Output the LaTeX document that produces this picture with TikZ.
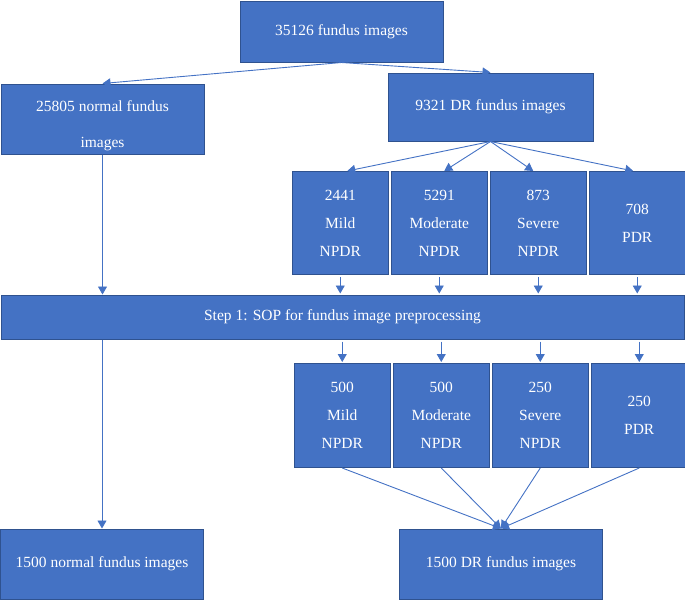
\documentclass[tikz,border=0pt]{standalone}
\usepackage{fontspec}
\setmainfont{Liberation Serif}
\usetikzlibrary{arrows.meta,positioning}
\definecolor{boxblue}{HTML}{4472C4}
\definecolor{boxedge}{HTML}{2F528F}

\begin{document}
\begin{tikzpicture}[
  x=1pt, y=-1pt,
  font=\fontsize{15.5}{28}\selectfont,
  >={Triangle[length=8pt, width=9pt]},
  box/.style={rectangle, draw=boxedge, fill=boxblue, line width=1pt,
              text=white, align=center, inner sep=2pt},
  wide/.style={box, minimum width=203pt, minimum height=70pt},
  grade/.style={box, minimum width=95.5pt, minimum height=103pt},
  link/.style={->, draw=boxblue, line width=0.9pt},
]
\useasboundingbox (0,0) rectangle (685,600);

% top
\node[box, minimum width=203pt, minimum height=61pt] (all) at (341.5,31.5) {35126 fundus images};
\node[wide, text height=61pt] (normal) at (102.5,119) {25805 normal fundus\\[8pt]images};
\node[box, minimum width=205pt, minimum height=68pt] (dr) at (490.5,107) {9321 DR fundus images};

% grades before preprocessing
\node[grade, anchor=north west] (mild) at (292,171) {2441\\Mild\\NPDR};
\node[grade, right=2.5pt of mild] (mod) {5291\\Moderate\\NPDR};
\node[grade, right=2.5pt of mod]  (sev) {873\\Severe\\NPDR};
\node[grade, right=2.5pt of sev]  (pdr) {708\\PDR};

% preprocessing bar
\node[box, minimum width=683pt, minimum height=44pt] (step) at (342.5,317) {Step 1: SOP for fundus image preprocessing};

% grades after preprocessing
\node[grade, minimum height=104pt, anchor=north west] (mild2) at (294,363) {500\\Mild\\NPDR};
\node[grade, minimum height=104pt, right=2.5pt of mild2] (mod2) {500\\Moderate\\NPDR};
\node[grade, minimum height=104pt, right=2.5pt of mod2]  (sev2) {250\\Severe\\NPDR};
\node[grade, minimum height=104pt, right=2.5pt of sev2]  (pdr2) {250\\PDR};

% results
\node[wide] (normal2) at (102,564) {1500 normal fundus images};
\node[wide] (dr2) at (501,564) {1500 DR fundus images};

% split
\draw[link] (all.south) -- (normal.north);
\draw[link] (all.south) -- (dr.north);
\draw[link] (dr.south) -- ([xshift=7pt]mild.north);
\draw[link] (dr.south) -- ([xshift=5pt]mod.north);
\draw[link] (dr.south) -- ([xshift=-5pt]sev.north);
\draw[link] (dr.south) -- ([xshift=-4pt]pdr.north);

% into the bar
\draw[link] (normal.south) -- (normal.south |- step.north);
\draw[link, shorten <=2pt, shorten >=1pt] (mild.south) -- (mild.south |- step.north);
\draw[link, shorten <=2pt, shorten >=1pt] (mod.south)  -- (mod.south |- step.north);
\draw[link, shorten <=2pt, shorten >=1pt] (sev.south)  -- (sev.south |- step.north);
\draw[link, shorten <=2pt, shorten >=1pt] (pdr.south)  -- (pdr.south |- step.north);

% out of the bar
\draw[link] (step.south -| normal2.north) -- (normal2.north);
\draw[link, shorten <=2pt, shorten >=1pt] (step.south -| mild2.north) -- (mild2.north);
\draw[link, shorten <=2pt, shorten >=1pt] (step.south -| mod2.north)  -- (mod2.north);
\draw[link, shorten <=2pt, shorten >=1pt] (step.south -| sev2.north)  -- (sev2.north);
\draw[link, shorten <=2pt, shorten >=1pt] (step.south -| pdr2.north)  -- (pdr2.north);

% merge
\draw[link] (mild2.south) -- (dr2.north);
\draw[link] (mod2.south)  -- (dr2.north);
\draw[link] (sev2.south)  -- (dr2.north);
\draw[link] (pdr2.south)  -- (dr2.north);

\end{tikzpicture}
\end{document}
